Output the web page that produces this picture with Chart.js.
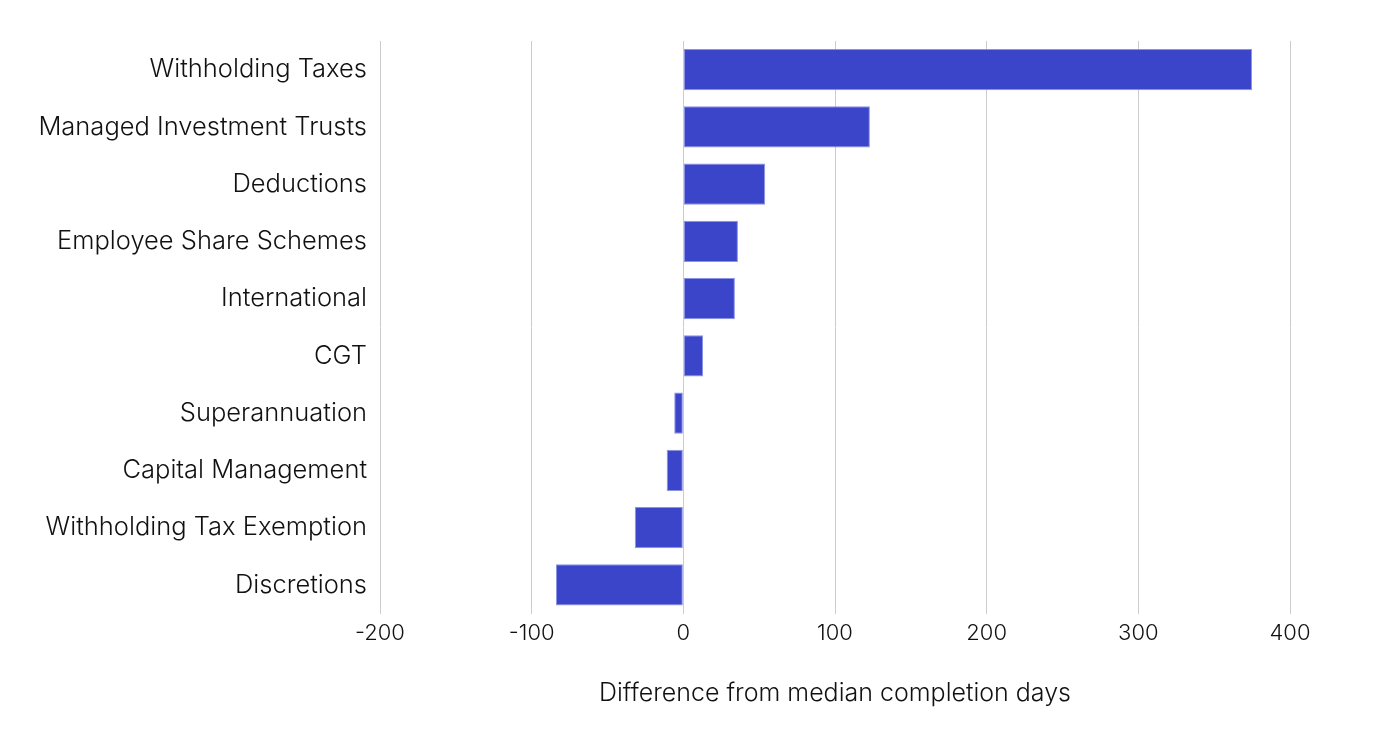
<!DOCTYPE html>
<html>
<head>
<meta charset="utf-8">
<script src="https://cdn.jsdelivr.net/npm/chart.js@4/dist/chart.umd.min.js"></script>
<style>
  html, body { margin: 0; padding: 0; background: #fff; }
  #wrap { width: 1378px; height: 742px; }
</style>
</head>
<body>
<div id="wrap"><canvas id="chart"></canvas></div>
<script>
let categories = ['Withholding Taxes', 'Managed Investment Trusts', 'Deductions', 'Employee Share Schemes',
    'International', 'CGT', 'Superannuation', 'Capital Management', 'Withholding Tax Exemption', 'Discretions'];
let diffDays = [375, 123, 54, 36, 34, 13, -6, -11, -32, -84];
let xTicks = [-200, -100, 0, 100, 200, 300, 400];

let ctx = document.getElementById('chart').getContext('2d');
let chart = new Chart(ctx, {
    type: 'bar',
    data: {
        labels: categories,
        datasets: [{
            data: diffDays,
            backgroundColor: '#3a45c9',
            borderColor: '#8c92e3',
            borderWidth: 1,
            borderSkipped: false,
            categoryPercentage: 1,
            barPercentage: 0.72
        }]
    },
    options: {
        indexAxis: 'y',
        responsive: true,
        maintainAspectRatio: false,
        animation: false,
        layout: { padding: { left: 0, right: 88, top: 41, bottom: 30 } },
        plugins: {
            legend: { display: false },
            tooltip: { enabled: false }
        },
        scales: {
            x: {
                min: -200,
                max: 400,
                afterBuildTicks: (axis) => { axis.ticks = xTicks.map(v => ({ value: v })); },
                grid: { color: '#cccccc', lineWidth: 1, drawTicks: false },
                border: { display: false },
                ticks: {
                    color: '#111',
                    padding: 7,
                    font: { family: 'Inter', size: 22, weight: 300 }
                },
                title: {
                    display: true,
                    text: 'Difference from median completion days',
                    color: '#111',
                    padding: { top: 24 },
                    font: { family: 'Inter', size: 25, weight: 300 }
                }
            },
            y: {
                afterFit: (axis) => { axis.width = 380; },
                grid: { display: false },
                border: { display: false },
                ticks: {
                    color: '#111',
                    padding: 5,
                    font: { family: 'Inter', size: 25.5, weight: 300 }
                }
            }
        }
    }
});
</script>
</body>
</html>
